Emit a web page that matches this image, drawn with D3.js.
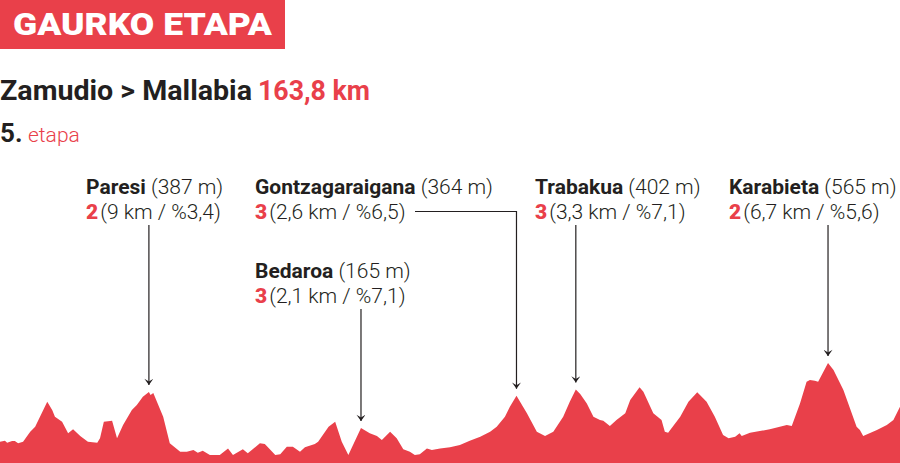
<!DOCTYPE html>
<html><head><meta charset="utf-8">
<script src="https://cdn.jsdelivr.net/npm/d3@7"></script>
<style>
html,body{margin:0;padding:0;background:#fff;}
svg{display:block;}
text{font-family:Roboto,"Noto Sans",sans-serif;}
</style></head>
<body>
<svg id="c" width="900" height="463"></svg>
<script>
// Profile data: distance (km) and elevation (m)
const profileKm = [0,0.9,1.3,2.2,2.7,3.3,4.2,5.5,6.4,8.6,9.5,10.0,11.3,12.4,13.3,14.6,16.0,17.7,18.2,18.9,20.4,21.3,22.4,24.0,24.9,26.0,27.1,27.4,27.9,29.7,30.9,32.8,34.0,35.2,36.0,36.9,38.2,40.0,41.5,42.4,44.2,45.1,47.3,48.2,50.1,51.0,52.2,53.3,54.6,55.5,57.3,57.9,59.8,61.0,62.2,63.4,65.7,67.3,68.6,69.5,71.0,72.2,73.4,74.6,75.5,76.4,77.7,78.6,80.1,81.9,83.7,85.5,87.4,89.2,90.4,91.9,92.8,94.0,95.9,97.7,99.2,100.7,102.5,103.7,104.8,105.6,106.8,108.0,109.2,109.8,111.0,112.2,113.8,114.7,116.4,117.1,118.9,120.4,121.0,121.6,123.8,125.3,126.9,128.6,130.1,131.6,132.6,133.8,134.6,135.0,136.5,140.1,143.2,144.1,145.6,146.8,147.4,148.3,148.9,150.7,151.7,153.5,155.9,156.5,157.1,159.6,161.4,162.6,163.8];
const profileElev = [81,87,75,85,85,71,81,143,173,327,276,235,204,133,157,116,81,75,102,204,210,102,184,276,307,358,387,368,381,235,71,20,20,30,13,26,0,0,40,0,34,10,71,67,0,4,50,50,20,47,67,81,173,204,81,0,165,133,116,92,143,102,34,20,0,4,40,30,40,47,61,87,112,143,173,235,296,364,256,143,116,143,235,327,402,375,317,235,215,210,178,215,256,338,416,389,256,215,143,136,235,327,385,327,235,122,102,112,133,116,136,157,184,178,317,450,461,456,450,565,522,399,173,153,116,153,184,215,296];

// Climbs
const climbNames = ["Paresi","Bedaroa","Gontzagaraigana","Trabakua","Karabieta"];
const climbHeights = ["(387 m)","(165 m)","(364 m)","(402 m)","(565 m)"];
const climbCats = ["2","3","3","3","2"];
const climbDetails = ["(9 km / %3,4)","(2,1 km / %7,1)","(2,6 km / %6,5)","(3,3 km / %7,1)","(6,7 km / %5,6)"];
const climbKm = [27.1,65.7,94.0,104.8,150.7];
const climbElev = [387,165,364,402,565];

const totalKm = 163.8;
const RED = "#e9404a", DARK = "#231f20";

const svg = d3.select("#c");
const x = d3.scaleLinear().domain([0,totalKm]).range([0,900]);
const y = d3.scaleLinear().domain([-50,600]).range([463,357.4]);

const prof = profileKm.map((k,i)=>({k, e:profileElev[i]}));
svg.append("path").datum(prof)
  .attr("fill",RED)
  .attr("d", d3.area().x(d=>x(d.k)).y0(463).y1(d=>y(d.e)));

// Header
svg.append("rect").attr("x",0).attr("y",0).attr("width",285).attr("height",49).attr("fill",RED);
svg.append("text").attr("x",13).attr("y",35).attr("fill","#fff")
  .attr("font-size",31).attr("font-weight",900)
  .attr("textLength",259).attr("lengthAdjust","spacingAndGlyphs")
  .text("GAURKO ETAPA");

svg.append("text").attr("x",0).attr("y",99.5).attr("fill",DARK)
  .attr("font-size",27).attr("font-weight",700)
  .attr("textLength",252).attr("lengthAdjust","spacingAndGlyphs")
  .text("Zamudio > Mallabia");
svg.append("text").attr("x",258).attr("y",99.5).attr("fill",RED)
  .attr("font-size",27).attr("font-weight",700)
  .attr("textLength",112).attr("lengthAdjust","spacingAndGlyphs")
  .text("163,8 km");

svg.append("text").attr("x",0).attr("y",142).attr("fill",DARK)
  .attr("font-size",26).attr("font-weight",700).text("5.");
svg.append("text").attr("x",28).attr("y",141.5).attr("fill",RED)
  .attr("font-size",21).attr("font-weight",300).text("etapa");

// Arrow marker
svg.append("defs").append("marker").attr("id","arr")
  .attr("viewBox","0 0 10 10").attr("refX",5).attr("refY",10)
  .attr("markerWidth",9).attr("markerHeight",9).attr("markerUnits","userSpaceOnUse")
  .attr("orient","0")
  .append("path").attr("d","M0,3 L5,10 L10,3 L5,6 Z").attr("fill",DARK);

// Label layout
const labelX = [86,255,255,535,729];
const labelY = [194,278,194,194,194];

climbNames.forEach((n,i)=>{
  const t = svg.append("text").attr("x",labelX[i]).attr("y",labelY[i]).attr("font-size",21).attr("fill",DARK);
  t.append("tspan").attr("font-weight",700).text(n);
  t.append("tspan").attr("font-weight",300).text(" "+climbHeights[i]);
  const t2 = svg.append("text").attr("x",labelX[i]).attr("y",labelY[i]+25).attr("font-size",21).attr("fill",DARK);
  t2.append("tspan").attr("font-weight",900).attr("fill",RED).text(climbCats[i]);
  t2.append("tspan").attr("font-weight",300).attr("dx",2).text(climbDetails[i]);
});

// Leaders
climbKm.forEach((k,i)=>{
  const px = x(k), tip = y(climbElev[i]) - 7;
  let d;
  if (i===2) d = `M415,211.5 H${px} V${tip}`;
  else d = `M${px},${labelY[i]+31} V${tip}`;
  svg.append("path").attr("d",d).attr("fill","none").attr("stroke",DARK)
    .attr("stroke-width",1.2).attr("marker-end","url(#arr)");
});
</script>
</body></html>
